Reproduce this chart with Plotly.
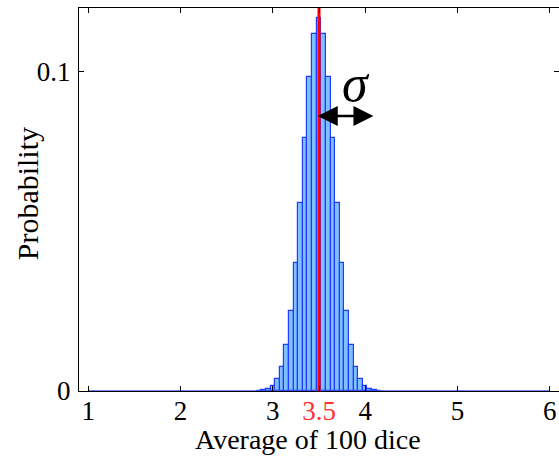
import plotly.graph_objects as go

# Distribution of the average of 100 fair dice, binned in steps of 0.05
bin_centers = [3.5 + 0.05 * k for k in range(-13, 14)]
probabilities = [
    0.00008, 0.00024, 0.00065, 0.00161, 0.00363, 0.0075, 0.0143, 0.0250,
    0.0400, 0.0588, 0.0794, 0.0984, 0.1119, 0.1168, 0.1119, 0.0984,
    0.0794, 0.0588, 0.0400, 0.0250, 0.0143, 0.0075, 0.00363, 0.00161,
    0.00065, 0.00024, 0.00008,
]
bin_width = 0.05
mean_value = 3.5
support = [1, 6]
sigma_arrow = [3.47, 4.09]
sigma_arrow_y = 0.0862

x_ticks = [1, 2, 3, 3.5, 4, 5, 6]
x_tick_text = ["1", "2", "3", "<span style='color:#ff3333'>3.5</span>", "4", "5", "6"]
y_ticks = [0, 0.1]
y_tick_text = ["0", "0.1"]

FONT = "Liberation Serif"

fig = go.Figure()

# near-zero tails along the full support
fig.add_trace(go.Scatter(
    x=support, y=[0, 0], mode="lines",
    line=dict(color="rgb(60,90,255)", width=1.5), hoverinfo="skip",
))

fig.add_trace(go.Bar(
    x=bin_centers, y=probabilities, width=bin_width,
    marker=dict(color="rgb(128,192,255)",
                line=dict(color="rgb(30,60,255)", width=1.2)),
))

# mean
fig.add_trace(go.Scatter(
    x=[mean_value, mean_value], y=[0, 0.12], mode="lines",
    line=dict(color="rgb(255,0,0)", width=3), hoverinfo="skip",
))

# sigma arrow
fig.add_annotation(
    x=sigma_arrow[1], y=sigma_arrow_y, ax=sigma_arrow[0], ay=sigma_arrow_y,
    xref="x", yref="y", axref="x", ayref="y",
    showarrow=True, arrowhead=2, startarrowhead=2, arrowside="end+start",
    arrowsize=1.6, startarrowsize=1.6, arrowwidth=2.5, arrowcolor="black", text="",
)
fig.add_annotation(
    x=3.9, y=0.0965, xref="x", yref="y", showarrow=False,
    text="<i>σ</i>", font=dict(family=FONT, size=52, color="black"),
)

# axis titles
fig.add_annotation(
    x=0.478, y=-0.126, xref="paper", yref="paper", showarrow=False,
    xanchor="center", yanchor="middle",
    text="Average of 100 dice", font=dict(family=FONT, size=28, color="black"),
)
fig.add_annotation(
    x=-0.108, y=0.514, xref="paper", yref="paper", showarrow=False,
    xanchor="center", yanchor="middle",
    text="Probability", textangle=-90,
    font=dict(family=FONT, size=30, color="black"),
)

fig.update_layout(
    width=559, height=459,
    margin=dict(l=79, r=0, t=8, b=68),
    paper_bgcolor="white", plot_bgcolor="white",
    showlegend=False, bargap=0,
    font=dict(family=FONT, size=27, color="black"),
)
fig.update_xaxes(
    range=[0.9, 6.1], tickvals=x_ticks, ticktext=x_tick_text,
    tickfont=dict(family=FONT, size=27, color="black"),
    showgrid=False, zeroline=False,
    showline=True, linecolor="black", linewidth=1.2, mirror="ticks",
    ticks="inside", ticklen=5, tickcolor="black", ticklabelstandoff=-5,
)
fig.update_yaxes(
    range=[0, 0.12], tickvals=y_ticks, ticktext=y_tick_text,
    tickfont=dict(family=FONT, size=27, color="black"),
    showgrid=False, zeroline=False,
    showline=True, linecolor="black", linewidth=1.2, mirror="ticks",
    ticks="inside", ticklen=5, tickcolor="black", ticklabelstandoff=2,
)

fig.write_html("out.html")
